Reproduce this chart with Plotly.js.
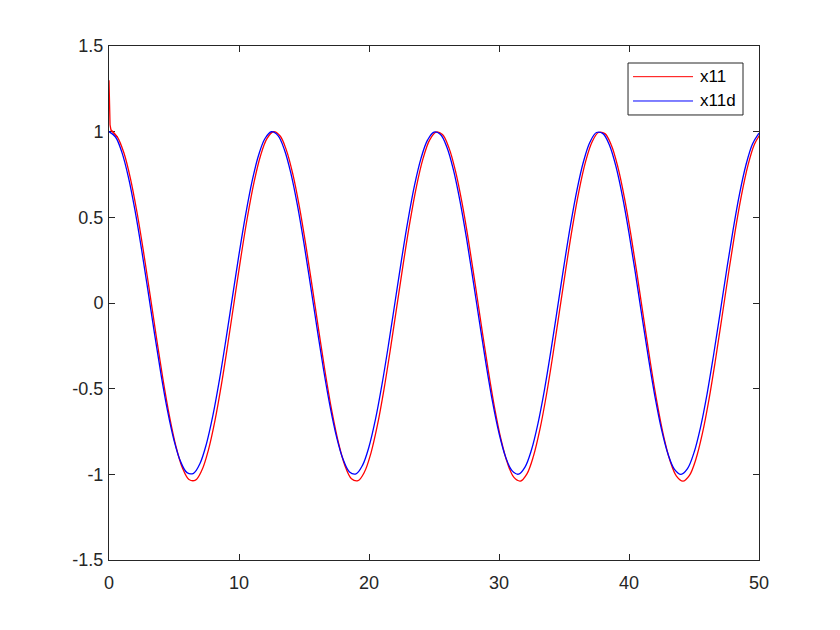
<!DOCTYPE html>
<html>
<head>
<meta charset="utf-8">
<script src="https://cdn.plot.ly/plotly-3.0.1.min.js"></script>
<style>html,body{margin:0;padding:0;background:#fff;}#chart{width:840px;height:630px;}</style>
</head>
<body>
<div id="chart"></div>
<script>
// Time grid step for sampled series
const tStep = 0.5;
// x11d (blue) values sampled at t = 0, 0.5, ..., 50
const x11d = [1, 0.9689, 0.8776, 0.7317, 0.5403, 0.3153, 0.0707, -0.1782, -0.4161, -0.6282, -0.8011, -0.9243, -0.9900, -0.9941, -0.9365, -0.8206, -0.6536, -0.4461, -0.2108, 0.0376, 0.2837, 0.5117, 0.7087, 0.8611, 0.9602, 0.9996, 0.9766, 0.8930, 0.7539, 0.5683, 0.3466, 0.1032, -0.1455, -0.3868, -0.6020, -0.7800, -0.9111, -0.9859, -0.9973, -0.9476, -0.8391, -0.6784, -0.4755, -0.2433, 0.0044, 0.2518, 0.4833, 0.6859, 0.8439, 0.9503, 0.9978, 0.9832, 0.9074, 0.7753, 0.5949, 0.3783, 0.1367, -0.1125, -0.3549, -0.5759, -0.7597, -0.8967, -0.9785, -0.9991, -0.9577, -0.8567, -0.7024, -0.5054, -0.2752, -0.0287, 0.2194, 0.4540, 0.6603, 0.8256, 0.9396, 0.9951, 0.9887, 0.9209, 0.7958, 0.6214, 0.4081, 0.1695, -0.0795, -0.3237, -0.5477, -0.7377, -0.8817, -0.9711, -1.0000, -0.9667, -0.8733, -0.7256, -0.5328, -0.3065, -0.0619, 0.1869, 0.4242, 0.6354, 0.8068, 0.9281, 0.9912];
// x11 (red): initial transient times and values
const x11StartT = [0, 0.03, 0.08, 0.15];
const x11Start = [1.30, 1.15, 1.04, 1.01];
// x11 (red) values after transient, sampled at t = 0.65, 1.15, ..., 50.15
const x11FirstT = 0.65;
const x11 = [0.9683, 0.8752, 0.7263, 0.5311, 0.3016, 0.0521, -0.2018, -0.4444, -0.6608, -0.8371, -0.9628, -1.0298, -1.0340, -0.9752, -0.8570, -0.6867, -0.4750, -0.2350, 0.0184, 0.2694, 0.5019, 0.7029, 0.8583, 0.9594, 0.9996, 0.9761, 0.8909, 0.7490, 0.5597, 0.3335, 0.0853, -0.1684, -0.4145, -0.6340, -0.8156, -0.9493, -1.0256, -1.0372, -0.9866, -0.8759, -0.7120, -0.5050, -0.2682, -0.0155, 0.2368, 0.4730, 0.6796, 0.8408, 0.9493, 0.9978, 0.9829, 0.9055, 0.7708, 0.5868, 0.3659, 0.1194, -0.1348, -0.3820, -0.6074, -0.7949, -0.9346, -1.0181, -1.0391, -0.9969, -0.8938, -0.7364, -0.5355, -0.3007, -0.0493, 0.2038, 0.4431, 0.6535, 0.8221, 0.9384, 0.9950, 0.9885, 0.9193, 0.7917, 0.6138, 0.3963, 0.1529, -0.1011, -0.3502, -0.5787, -0.7725, -0.9193, -1.0105, -1.0400, -1.0060, -0.9108, -0.7601, -0.5635, -0.3326, -0.0831, 0.1706, 0.4127, 0.6281, 0.8029, 0.9267, 0.9910];
const xTicks = [0, 10, 20, 30, 40, 50];
const yTicks = [-1.5, -1, -0.5, 0, 0.5, 1, 1.5];
const yTickText = ['-1.5', '-1', '-0.5', '0', '0.5', '1', '1.5'];
const seriesNames = ['x11', 'x11d'];
const seriesColors = ['#FF0000', '#0000FF'];

const tBlue = x11d.map((_, i) => i * tStep);
const tRedTail = x11.map((_, i) => x11FirstT + i * tStep);

const fam = 'Liberation Sans, Arial, Helvetica, sans-serif';
const font = {family: fam, size: 18, color: '#262626'};
const axisCommon = {
  showgrid: false, zeroline: false, showline: true, mirror: 'ticks',
  linecolor: '#262626', linewidth: 1, ticks: 'inside', ticklen: 6,
  tickcolor: '#262626', tickfont: font, layer: 'below traces'
};
const lw = 1.3;

const data = [
  {x: x11StartT.concat([x11FirstT]), y: x11Start.concat([x11[0]]), mode: 'lines', showlegend: false, name: seriesNames[0],
   line: {color: seriesColors[0], width: lw}},
  {x: [x11StartT[x11StartT.length - 1]].concat(tRedTail), y: [x11Start[x11Start.length - 1]].concat(x11), mode: 'lines', name: seriesNames[0], showlegend: false,
   line: {color: seriesColors[0], width: lw, shape: 'spline', smoothing: 1}},
  {x: tBlue, y: x11d, mode: 'lines', name: seriesNames[1], showlegend: false,
   line: {color: seriesColors[1], width: lw, shape: 'spline', smoothing: 1}}
];

// Custom MATLAB-style legend (paper coordinates)
const lg = {x0: 0.7985, x1: 0.9754, y0: 0.8658, y1: 0.9669, lx0: 0.8062, lx1: 0.8985, tx: 0.9062, rows: [0.9403, 0.8930]};
const shapes = [{type: 'rect', xref: 'paper', yref: 'paper', x0: lg.x0, x1: lg.x1, y0: lg.y0, y1: lg.y1,
  line: {color: '#262626', width: 1}, fillcolor: '#fff', layer: 'above'}];
const annotations = [];
seriesNames.forEach((nm, i) => {
  shapes.push({type: 'line', xref: 'paper', yref: 'paper', x0: lg.lx0, x1: lg.lx1, y0: lg.rows[i], y1: lg.rows[i],
    line: {color: seriesColors[i], width: 1}, layer: 'above'});
  annotations.push({xref: 'paper', yref: 'paper', x: lg.tx, y: lg.rows[i], xanchor: 'left', yanchor: 'middle',
    text: nm, showarrow: false, font: {family: fam, size: 17, color: '#000'}});
});

const layout = {
  width: 840, height: 630,
  margin: {l: 109, r: 81, t: 46, b: 70},
  paper_bgcolor: '#fff', plot_bgcolor: '#fff',
  font: font,
  showlegend: false,
  shapes: shapes,
  annotations: annotations,
  xaxis: Object.assign({}, axisCommon, {range: [0, 50], tickvals: xTicks, ticktext: xTicks.map(String), ticklabelstandoff: 6}),
  yaxis: Object.assign({}, axisCommon, {range: [-1.5, 1.5], tickvals: yTicks, ticktext: yTickText, ticklabelstandoff: 1})
};
Plotly.newPlot('chart', data, layout, {displayModeBar: false, staticPlot: true});
</script>
</body>
</html>
